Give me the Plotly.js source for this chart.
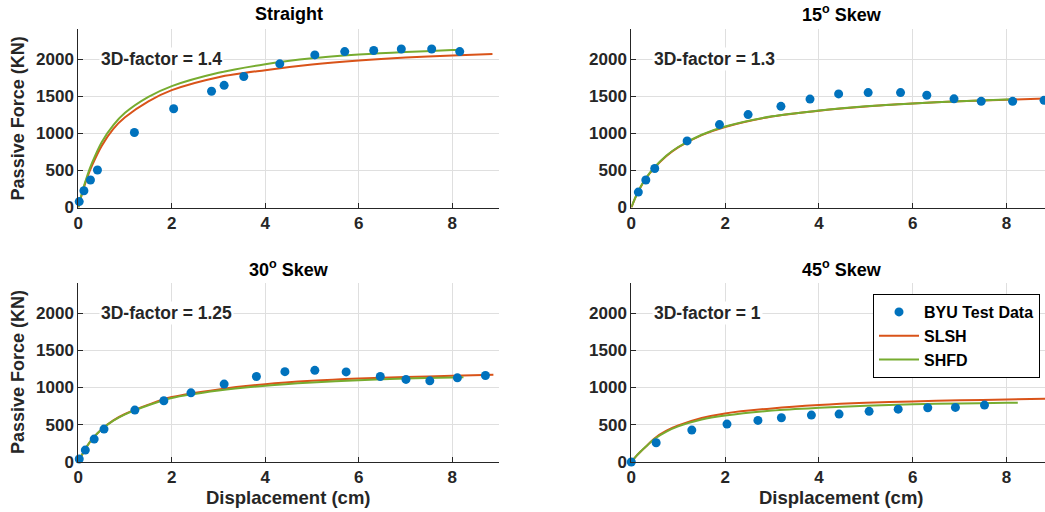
<!DOCTYPE html>
<html>
<head>
<meta charset="utf-8">
<script src="https://cdn.plot.ly/plotly-3.0.1.min.js"></script>
<style>html,body{margin:0;padding:0;background:#fff;overflow:hidden}#chart{width:1045px;height:512px}</style>
</head>
<body>
<div id="chart"></div>
<script>
// ---- Data ----
const panelTitles = ['Straight', '15<sup>o</sup> Skew', '30<sup>o</sup> Skew', '45<sup>o</sup> Skew'];
const factorLabels = ['3D-factor = 1.4', '3D-factor = 1.3', '3D-factor = 1.25', '3D-factor = 1'];
const seriesNames = ['BYU Test Data', 'SLSH', 'SHFD'];
const xTickVals = [0, 2, 4, 6, 8];
const yTickVals = [0, 500, 1000, 1500, 2000];

// Straight
const testX_straight = [0.02, 0.12, 0.26, 0.41, 1.20, 2.04, 2.85, 3.12, 3.54, 4.31, 5.06, 5.70, 6.32, 6.91, 7.56, 8.16];
const testY_straight = [80, 225, 370, 505, 1010, 1330, 1565, 1645, 1765, 1935, 2055, 2100, 2115, 2135, 2135, 2100];
const slshX_straight = [0, 0.1, 0.2, 0.3, 0.5, 0.75, 1, 1.5, 2, 3, 4, 5, 6, 7, 8, 8.86];
const slshY_straight = [0, 230, 420, 575, 830, 1060, 1215, 1430, 1580, 1755, 1850, 1925, 1980, 2020, 2047, 2068];
const shfdX_straight = [0, 0.1, 0.2, 0.3, 0.5, 0.75, 1, 1.5, 2, 3, 4, 5, 6, 7, 8, 8.16];
const shfdY_straight = [0, 245, 445, 610, 880, 1110, 1275, 1490, 1635, 1815, 1930, 2010, 2060, 2095, 2120, 2125];

// 15 degree skew
const testX_15 = [0.15, 0.31, 0.50, 1.19, 1.88, 2.49, 3.19, 3.81, 4.42, 5.05, 5.74, 6.30, 6.88, 7.46, 8.13, 8.80];
const testY_15 = [208, 370, 525, 897, 1117, 1251, 1362, 1460, 1530, 1548, 1548, 1512, 1463, 1430, 1430, 1443];
const slshX_15 = [0, 0.1, 0.2, 0.3, 0.5, 0.75, 1, 1.5, 2, 3, 4, 5, 6, 7, 8, 8.9];
const slshY_15 = [0, 150, 275, 380, 540, 695, 810, 975, 1085, 1225, 1303, 1360, 1400, 1430, 1452, 1470];
const shfdX_15 = [0, 0.1, 0.2, 0.3, 0.5, 0.75, 1, 1.5, 2, 3, 4, 5, 6, 7, 8, 8.2];
const shfdY_15 = [0, 155, 280, 385, 545, 700, 815, 980, 1090, 1228, 1305, 1362, 1401, 1431, 1453, 1456];

// 30 degree skew
const testX_30 = [0.02, 0.15, 0.34, 0.55, 1.21, 1.83, 2.41, 3.12, 3.81, 4.42, 5.06, 5.73, 6.46, 7.01, 7.52, 8.11, 8.71];
const testY_30 = [40, 160, 308, 442, 697, 822, 929, 1046, 1148, 1213, 1231, 1210, 1148, 1109, 1090, 1130, 1162];
const slshX_30 = [0, 0.1, 0.2, 0.3, 0.5, 0.75, 1, 1.5, 2, 3, 4, 5, 6, 7, 8, 8.88];
const slshY_30 = [0, 120, 225, 310, 440, 560, 645, 770, 872, 975, 1045, 1090, 1120, 1140, 1157, 1173];
const shfdX_30 = [0, 0.1, 0.2, 0.3, 0.5, 0.75, 1, 1.5, 2, 3, 4, 5, 6, 7, 8, 8.24];
const shfdY_30 = [0, 120, 225, 310, 440, 555, 640, 762, 860, 960, 1025, 1068, 1099, 1120, 1135, 1138];

// 45 degree skew
const testX_45 = [0, 0.53, 1.29, 2.04, 2.70, 3.20, 3.84, 4.43, 5.07, 5.69, 6.32, 6.91, 7.53];
const testY_45 = [0, 259, 429, 509, 559, 594, 630, 643, 680, 710, 728, 733, 764];
const slshX_45 = [0, 0.1, 0.2, 0.3, 0.5, 0.75, 1, 1.5, 2, 3, 4, 5, 6, 7, 8, 8.9];
const slshY_45 = [0, 75, 140, 200, 320, 420, 490, 590, 652, 720, 765, 795, 814, 828, 840, 852];
const shfdX_45 = [0, 0.1, 0.2, 0.3, 0.5, 0.75, 1, 1.5, 2, 3, 4, 5, 6, 7, 8, 8.24];
const shfdY_45 = [0, 75, 140, 200, 312, 408, 478, 570, 623, 690, 728, 755, 775, 787, 795, 797];

// ---- Styling ----
const W = 1045, H = 512;
const FONT = 'Liberation Sans, Arial, Helvetica, sans-serif';
const INK = '#262626';
const BLUE = '#0072BD', ORANGE = '#D95319', GREEN = '#77AC30';

const panels = [
  {tx: testX_straight, ty: testY_straight, sx: slshX_straight, sy: slshY_straight, gx: shfdX_straight, gy: shfdY_straight},
  {tx: testX_15, ty: testY_15, sx: slshX_15, sy: slshY_15, gx: shfdX_15, gy: shfdY_15},
  {tx: testX_30, ty: testY_30, sx: slshX_30, sy: slshY_30, gx: shfdX_30, gy: shfdY_30},
  {tx: testX_45, ty: testY_45, sx: slshX_45, sy: slshY_45, gx: shfdX_45, gy: shfdY_45}
];

const traces = [];
panels.forEach((p, i) => {
  const xa = i === 0 ? 'x' : 'x' + (i + 1);
  const ya = i === 0 ? 'y' : 'y' + (i + 1);
  const showLeg = (i === 3);
  traces.push({x: p.sx, y: p.sy, xaxis: xa, yaxis: ya, type: 'scatter', mode: 'lines',
    line: {color: ORANGE, width: 2, shape: 'spline', smoothing: 0.9}, name: seriesNames[1],
    showlegend: showLeg, legendrank: 2, hoverinfo: 'skip'});
  traces.push({x: p.gx, y: p.gy, xaxis: xa, yaxis: ya, type: 'scatter', mode: 'lines',
    line: {color: GREEN, width: 2, shape: 'spline', smoothing: 0.9}, name: seriesNames[2],
    showlegend: showLeg, legendrank: 3, hoverinfo: 'skip'});
  traces.push({x: p.tx, y: p.ty, xaxis: xa, yaxis: ya, type: 'scatter', mode: 'markers',
    marker: {color: BLUE, size: 9}, name: seriesNames[0], cliponaxis: false,
    showlegend: showLeg, legendrank: 1, hoverinfo: 'skip'});
});

// pixel geometry -> paper domains
const colL = [78.3 / W, 499 / W];
const colR = [631.3 / W, 1];
const rowT = [(H - 207.5) / H, (H - 29.3) / H];
const rowB = [(H - 462) / H, (H - 283.3) / H];
const doms = [[colL, rowT], [colR, rowT], [colL, rowB], [colR, rowB]];
const xMax = [9, 8.82, 9, 8.82];

const tickFont = {family: FONT, size: 17, color: INK, weight: 'bold'};
const layout = {
  width: W, height: H,
  margin: {l: 0, r: 0, t: 0, b: 0},
  paper_bgcolor: '#fff', plot_bgcolor: '#fff',
  font: {family: FONT, color: INK},
  showlegend: true,
  legend: {x: 873 / W, y: (H - 294) / H, xanchor: 'left', yanchor: 'top',
    bgcolor: '#fff', bordercolor: '#000', borderwidth: 1,
    font: {family: FONT, size: 16, color: '#000', weight: 'bold'},
    itemwidth: 40, tracegroupgap: 0, traceorder: 'normal'},
  annotations: []
};

doms.forEach((d, i) => {
  const sfx = i === 0 ? '' : String(i + 1);
  layout['xaxis' + sfx] = {domain: d[0], range: [0, xMax[i]], anchor: 'y' + sfx,
    tickvals: xTickVals, ticktext: xTickVals.map(String), tickfont: tickFont,
    showgrid: true, gridcolor: '#dfdfdf', gridwidth: 1, zeroline: false,
    showline: true, linecolor: INK, linewidth: 1, ticks: 'inside', ticklen: 5, tickcolor: INK,
    fixedrange: true};
  layout['yaxis' + sfx] = {domain: d[1], range: [0, 2400], anchor: 'x' + sfx,
    tickvals: yTickVals, ticktext: yTickVals.map(String), tickfont: tickFont,
    showgrid: true, gridcolor: '#dfdfdf', gridwidth: 1, zeroline: false,
    showline: true, linecolor: INK, linewidth: 1, ticks: 'inside', ticklen: 5, tickcolor: INK,
    fixedrange: true};
  // 3D-factor label
  layout.annotations.push({xref: 'x' + sfx, yref: 'y' + sfx, x: 0.45, y: 2000,
    xanchor: 'left', yanchor: 'middle', text: factorLabels[i], showarrow: false,
    bgcolor: '#fff', font: {family: FONT, size: 17.5, color: INK, weight: 'bold'}});
});

// panel titles
const titleX = [288.7 / W, 841.5 / W, 288.7 / W, 841.5 / W];
const titleY = [1 - 13.5 / H, 1 - 13.5 / H, 1 - 268 / H, 1 - 268 / H];
panelTitles.forEach((t, i) => {
  layout.annotations.push({xref: 'paper', yref: 'paper', x: titleX[i], y: titleY[i],
    xanchor: 'center', yanchor: 'middle', text: t, showarrow: false,
    font: {family: FONT, size: 18, color: '#000', weight: 'bold'}});
});
// axis titles
[1 - 118.4 / H, 1 - 372 / H].forEach(yy => {
  layout.annotations.push({xref: 'paper', yref: 'paper', x: 18 / W, y: yy,
    xanchor: 'center', yanchor: 'middle', textangle: -90, text: 'Passive Force (KN)', showarrow: false,
    font: {family: FONT, size: 18, color: INK, weight: 'bold'}});
});
[288.7 / W, 841.5 / W].forEach(xx => {
  layout.annotations.push({xref: 'paper', yref: 'paper', x: xx, y: 1 - 497 / H,
    xanchor: 'center', yanchor: 'middle', text: 'Displacement (cm)', showarrow: false,
    font: {family: FONT, size: 18.5, color: INK, weight: 'bold'}});
});

Plotly.newPlot('chart', traces, layout, {displayModeBar: false, staticPlot: true});
</script>
</body>
</html>
